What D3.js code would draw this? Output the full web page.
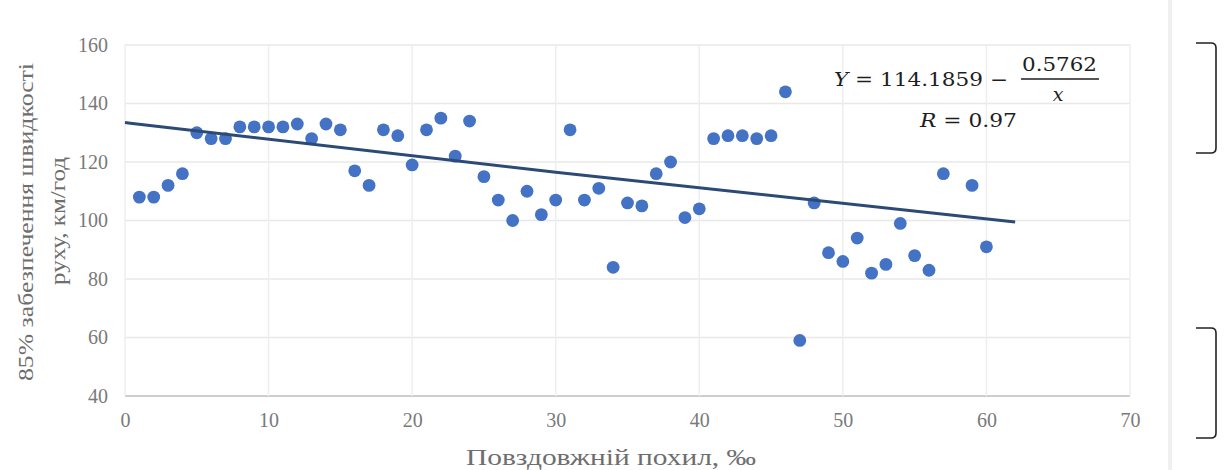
<!DOCTYPE html>
<html>
<head>
<meta charset="utf-8">
<script src="https://cdn.jsdelivr.net/npm/d3@7"></script>
<style>
body{margin:0;background:#fff;}
svg{display:block;}
</style>
</head>
<body>
<svg id="scatter"></svg>
<script>
//slope values (x) and the 85% speed for each one (y)
var slopes = [1,2,3,4,5,6,7,8,9,10,11,12,13,14,15,16,17,18,19,20,
    21,22,23,24,25,26,27,28,29,30,31,32,33,34,35,36,37,38,39,40,
    41,42,43,44,45,46,47,48,49,50,51,52,53,54,55,56,57,59,60];
var speeds = [108,108,112,116,130,128,128,132,132,132,132,133,128,133,131,117,112,131,129,119,
    131,135,122,134,115,107,100,110,102,107,131,107,111,84,106,105,116,120,101,104,
    128,129,129,128,129,144,59,106,89,86,94,82,85,99,88,83,116,112,91];

//trend line
var trendX = [0,30,62];
var trendY = [133.5,116.5,99.5];

var xTicks = [0,10,20,30,40,50,60,70];
var yTicks = [40,60,80,100,120,140,160];

var yTitle = ["85% забезпечення швидкості","руху, км/год"];
var xTitle = "Повздовжній похил, ‰";

var serif = "'Liberation Serif','Times New Roman',serif";

var initGraph = function(target)
{
    var screen = {width:1225, height:470};
    var margins = {top:45,bottom:74,left:125,right:95};
    var graph =
    {
        width:screen.width-margins.left-margins.right,
        height:screen.height-margins.top-margins.bottom
    }

    var svg = d3.select(target)
        .attr("width",screen.width)
        .attr("height",screen.height)

    var xScale = d3.scaleLinear()
        .domain([0,70])
        .range([0,graph.width])
    var yScale = d3.scaleLinear()
        .domain([40,160])
        .range([graph.height,0])

    var g = svg.append("g")
        .classed("graph",true)
        .attr("transform","translate("+margins.left+","+margins.top+")");

    //grid
    g.selectAll(".hgrid")
        .data(yTicks)
        .enter()
        .append("line")
        .attr("x1",0)
        .attr("x2",graph.width)
        .attr("y1",function(d){return yScale(d);})
        .attr("y2",function(d){return yScale(d);})
        .attr("stroke",function(d){return d==40?"#bdbdbd":"#e8e8e8";})
        .attr("stroke-width",1.5)
    g.selectAll(".vgrid")
        .data(xTicks)
        .enter()
        .append("line")
        .attr("y1",0)
        .attr("y2",graph.height)
        .attr("x1",function(d){return xScale(d);})
        .attr("x2",function(d){return xScale(d);})
        .attr("stroke","#eeeeee")
        .attr("stroke-width",1.5)

    //axes, only for their labels
    var xAxis = d3.axisBottom(xScale).tickValues(xTicks).tickSize(0).tickPadding(17);
    var yAxis = d3.axisLeft(yScale).tickValues(yTicks).tickSize(0).tickPadding(17);
    var xa = g.append("g")
        .attr("transform","translate(0,"+graph.height+")")
        .call(xAxis)
    var ya = g.append("g")
        .call(yAxis)
    xa.select(".domain").remove();
    ya.select(".domain").remove();
    svg.selectAll(".tick text")
        .attr("fill","#7a7a7a")
        .attr("font-family",serif)
        .attr("font-size","20px")
        .style("font-family",serif)
        .style("font-size","20px")

    //points
    g.selectAll("circle")
        .data(slopes)
        .enter()
        .append("circle")
        .attr("cx",function(d){return xScale(d);})
        .attr("cy",function(d,i){return yScale(speeds[i]);})
        .attr("r",6.4)
        .attr("fill","#4472c4")

    //trend line
    var line = d3.line()
        .x(function(d){return xScale(d);})
        .y(function(d,i){return yScale(trendY[i]);})
        .curve(d3.curveMonotoneX)
    g.append("path")
        .datum(trendX)
        .attr("d",line)
        .attr("fill","none")
        .attr("stroke","#2c4a76")
        .attr("stroke-width",3)

    //axis titles
    svg.append("text")
        .attr("x",611)
        .attr("y",465)
        .attr("text-anchor","middle")
        .attr("fill","#6e6e6e")
        .attr("textLength",290)
        .attr("lengthAdjust","spacingAndGlyphs")
        .style("font-family",serif)
        .style("font-size","23px")
        .text(xTitle)
    svg.selectAll(".ytitle")
        .data(yTitle)
        .enter()
        .append("text")
        .attr("transform",function(d,i){return "translate("+(33+i*32)+","+(i==0?222:221)+") rotate(-90)";})
        .attr("text-anchor","middle")
        .attr("fill","#6e6e6e")
        .attr("textLength",function(d,i){return i==0?318:128;})
        .attr("lengthAdjust","spacingAndGlyphs")
        .style("font-family",serif)
        .style("font-size","22px")
        .text(function(d){return d;})

    drawFormula(svg);
    drawSide(svg,screen);
}

//regression formula in the corner
var drawFormula = function(svg)
{
    var f = svg.append("g")
        .style("font-family","'DejaVu Serif','Liberation Serif',serif")
        .style("font-size","19px")
        .attr("fill","#1e1e1e")
    f.append("text")
        .attr("x",834).attr("y",86)
        .attr("textLength",174)
        .attr("lengthAdjust","spacingAndGlyphs")
        .html("<tspan font-style='italic'>Y</tspan> = 114.1859 −")
    f.append("text")
        .attr("x",1022).attr("y",71)
        .attr("textLength",75)
        .attr("lengthAdjust","spacingAndGlyphs")
        .text("0.5762")
    f.append("line")
        .attr("x1",1021).attr("x2",1099)
        .attr("y1",79).attr("y2",79)
        .attr("stroke","#1e1e1e")
        .attr("stroke-width",1.5)
    f.append("text")
        .attr("x",1058).attr("y",101)
        .attr("text-anchor","middle")
        .attr("font-style","italic")
        .text("x")
    f.append("text")
        .attr("x",920).attr("y",127)
        .attr("textLength",97)
        .attr("lengthAdjust","spacingAndGlyphs")
        .html("<tspan font-style='italic'>R</tspan> = 0.97")
}

//page edge and the brackets on the right
var drawSide = function(svg,screen)
{
    svg.append("rect")
        .attr("x",1168).attr("y",0)
        .attr("width",4).attr("height",screen.height)
        .attr("fill","#f0f0f0")
    var brackets = [[43,153],[328,438]];
    svg.selectAll(".br")
        .data(brackets)
        .enter()
        .append("path")
        .attr("d",function(d)
        {
            return "M1196,"+d[0]+" L1211,"+d[0]+" Q1216,"+d[0]+" 1216,"+(d[0]+5)+
                " L1216,"+(d[1]-5)+" Q1216,"+d[1]+" 1211,"+d[1]+" L1196,"+d[1];
        })
        .attr("fill","none")
        .attr("stroke","#222")
        .attr("stroke-width",1.6)
}

initGraph("#scatter");
</script>
</body>
</html>
